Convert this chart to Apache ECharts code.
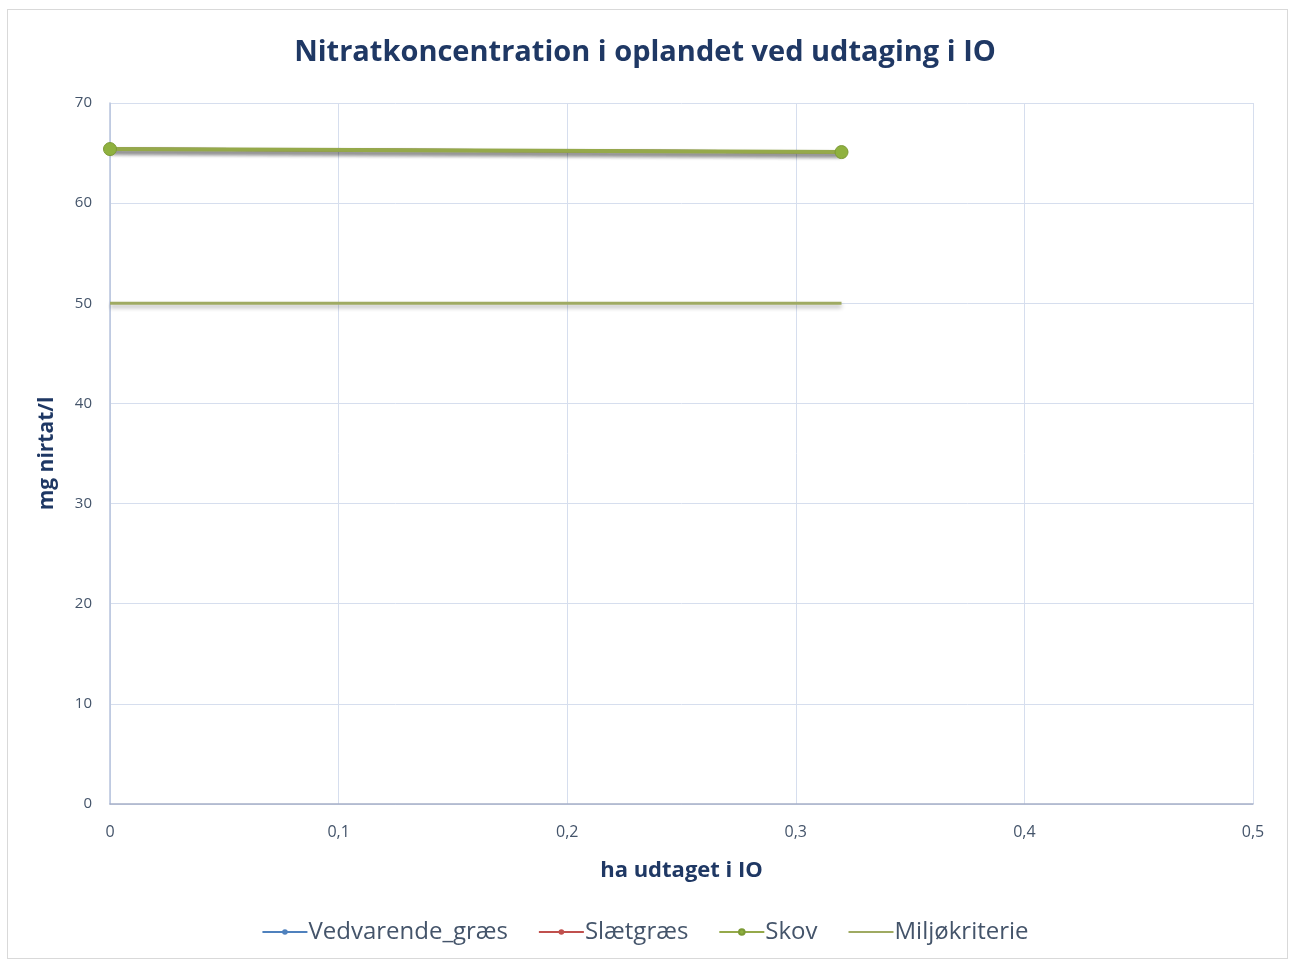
<!DOCTYPE html>
<html><head><meta charset="utf-8">
<script src="https://cdn.jsdelivr.net/npm/echarts@6/dist/echarts.min.js"></script>
<style>
html,body{margin:0;padding:0;background:#fff;}
#frame{position:absolute;left:7px;top:9px;width:1281px;height:950px;border:1px solid #d9d9d9;box-sizing:border-box;}
#c{position:absolute;left:0;top:0;width:1290px;height:961px;}
</style></head>
<body>
<div id="frame"></div>
<div id="c"></div>
<script>
const xValues = [0, 0.32];
const vedvarende = [65.4, 65.1];
const slaetgraes = [65.4, 65.1];
const skov = [65.4, 65.1];
const miljoX = [0, 0.32];
const miljo = [50, 50];
const seriesNames = ['Vedvarende_græs', 'Slætgræs', 'Skov', 'Miljøkriterie'];
const xTicks = ['0', '0,1', '0,2', '0,3', '0,4', '0,5'];

const pair = (xs, ys) => xs.map((x, i) => [x, ys[i]]);
const chart = echarts.init(document.getElementById('c'));
const txt = '#44546A';
const shadow = {shadowColor: 'rgba(0,0,0,0.3)', shadowBlur: 4, shadowOffsetY: 3};
chart.setOption({
  animation: false,
  title: {
    text: 'Nitratkoncentration i oplandet ved udtaging i IO',
    left: 'center', top: 33,
    textStyle: {fontFamily: 'Open Sans', fontSize: 29, fontWeight: 'bold', color: '#1F3864'}
  },
  grid: {left: 110, right: 37, top: 103, bottom: 157},
  legend: {
    bottom: 12, left: 'center', itemGap: 30, itemWidth: 45, itemHeight: 7,
    textStyle: {fontFamily: 'Open Sans', fontSize: 24, color: txt, padding: [0, 0, 0, -4]},
    data: [seriesNames[0], seriesNames[1], seriesNames[2], {name: seriesNames[3], itemStyle: {opacity: 0}}]
  },
  xAxis: {
    type: 'value', min: 0, max: 0.5, interval: 0.1,
    name: 'ha udtaget i IO', nameLocation: 'middle', nameGap: 56,
    nameTextStyle: {fontFamily: 'Open Sans', fontSize: 22, fontWeight: 'bold', color: '#1F3864'},
    axisLine: {lineStyle: {color: '#A6B0C8', width: 1.5}},
    axisTick: {show: false},
    axisLabel: {fontFamily: 'Open Sans', fontSize: 16, color: txt, margin: 20,
      formatter: v => xTicks[Math.round(v * 10)]},
    splitLine: {lineStyle: {color: '#D6DEEE', width: 1}}
  },
  yAxis: {
    type: 'value', min: 0, max: 70, interval: 10,
    name: 'mg nirtat/l', nameLocation: 'middle', nameGap: 52,
    nameTextStyle: {fontFamily: 'Open Sans', fontSize: 21, fontWeight: 'bold', color: '#1F3864'},
    axisLine: {show: true, lineStyle: {color: '#B7C3DC', width: 1.5}},
    axisTick: {show: false},
    axisLabel: {fontFamily: 'Open Sans', fontSize: 15, color: txt, margin: 18},
    splitLine: {lineStyle: {color: '#D6DEEE', width: 1}}
  },
  series: [
    {name: seriesNames[0], type: 'line', data: pair(xValues, vedvarende), symbol: 'circle', symbolSize: 7,
      itemStyle: {color: '#4F81BD'}, lineStyle: Object.assign({width: 3, color: '#4F81BD'}, shadow)},
    {name: seriesNames[1], type: 'line', data: pair(xValues, slaetgraes), symbol: 'circle', symbolSize: 7,
      itemStyle: {color: '#C0504D'}, lineStyle: Object.assign({width: 3, color: '#C0504D'}, shadow)},
    {name: seriesNames[2], type: 'line', data: pair(xValues, skov), symbol: 'circle', symbolSize: 13,
      itemStyle: {color: '#8FB13F', borderColor: '#7C9A36', borderWidth: 1},
      lineStyle: Object.assign({width: 4, color: '#95A94A'}, shadow)},
    {name: seriesNames[3], type: 'line', data: pair(miljoX, miljo), symbol: 'none',
      itemStyle: {color: '#A8B860'},
      lineStyle: Object.assign({width: 3, color: '#9FAA62'}, shadow)}
  ]
});
</script>
</body></html>
